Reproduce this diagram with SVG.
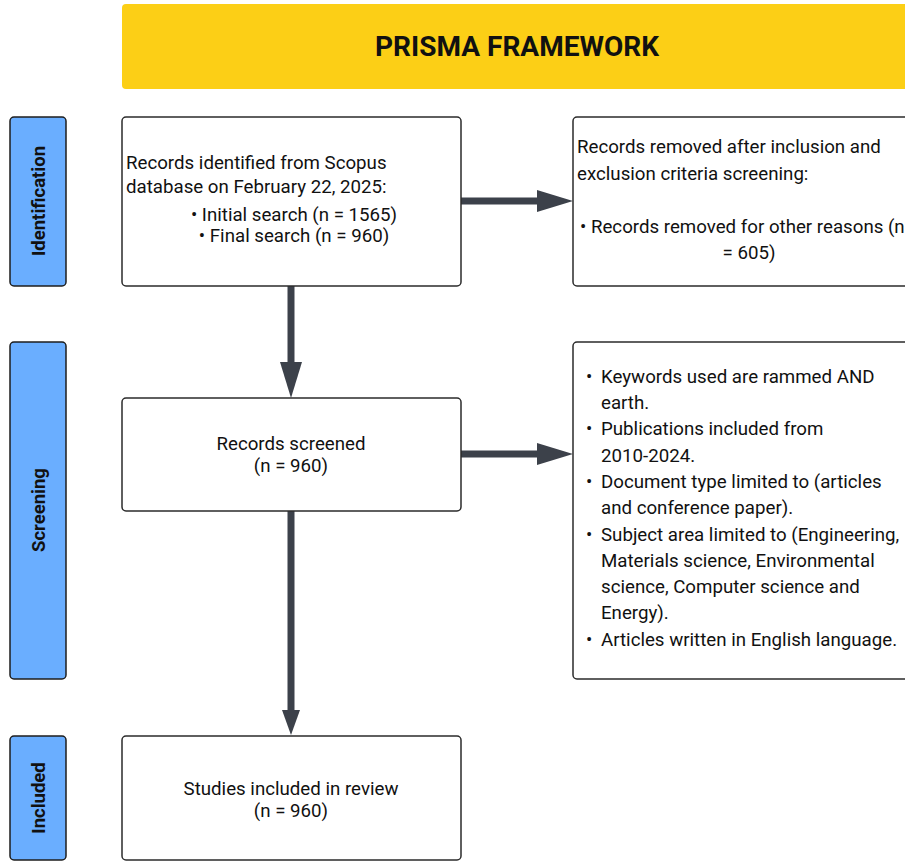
<svg xmlns="http://www.w3.org/2000/svg" width="905" height="861" viewBox="0 0 905 861">
<style>
.box{fill:#ffffff;stroke:#2b2b2b;stroke-width:1.5}
.side{fill:#6aaeff;stroke:#1e1e1e;stroke-width:1.5}
.t{font-family:Roboto,"Liberation Sans",sans-serif;font-size:18.7px;fill:#111}
.c{text-anchor:middle}
.st{font-family:Roboto,"Liberation Sans",sans-serif;font-size:18.5px;font-weight:bold;fill:#111;text-anchor:middle}
.conn{stroke:#3c414a;stroke-width:7;fill:none}
.head{fill:#3c414a}
</style>
<rect width="905" height="861" fill="#ffffff"/>
<g id="title">
<rect x="122" y="4" width="800" height="85" rx="4" fill="#fccf16"/>
<text x="517" y="56" font-family="Roboto,'Liberation Sans',sans-serif" font-size="28" font-weight="bold" fill="#111" text-anchor="middle">PRISMA FRAMEWORK</text>
</g>
<g id="lbl-identification">
<rect class="side" x="10" y="117" width="56" height="169" rx="4"/>
<text class="st" transform="translate(45,201) rotate(-90)">Identification</text>
</g>
<g id="lbl-screening">
<rect class="side" x="10" y="342" width="56" height="337" rx="4"/>
<text class="st" transform="translate(45,510) rotate(-90)">Screening</text>
</g>
<g id="lbl-included">
<rect class="side" x="10" y="736" width="56" height="124" rx="4"/>
<text class="st" transform="translate(45,798) rotate(-90)">Included</text>
</g>
<g id="connectors">
<line class="conn" x1="461" y1="201" x2="540" y2="201"/>
<polygon class="head" points="537,190 573,201 537,212"/>
<line class="conn" x1="291" y1="286" x2="291" y2="365"/>
<polygon class="head" points="280,362 302,362 291,398"/>
<line class="conn" x1="461" y1="454" x2="540" y2="454"/>
<polygon class="head" points="537,443 573,454 537,465"/>
<line class="conn" x1="291" y1="511" x2="291" y2="712"/>
<polygon class="head" points="282,710 300,710 291,735"/>
</g>
<g id="n-identified">
<rect class="box" x="122" y="117" width="339" height="169" rx="4"/>
<text class="t" x="126" y="169">Records identified from Scopus</text>
<text class="t" x="126" y="193">database on February 22, 2025:</text>
<text class="t c" x="294" y="221">• Initial search (n = 1565)</text>
<text class="t c" x="294" y="242">• Final search (n = 960)</text>
</g>
<g id="n-removed">
<rect class="box" x="573" y="117" width="360" height="169" rx="4"/>
<text class="t" x="577" y="153">Records removed after inclusion and</text>
<text class="t" x="577" y="180">exclusion criteria screening:</text>
<text class="t" x="580" y="233">• Records removed for other reasons (n</text>
<text class="t c" x="749" y="259">= 605)</text>
</g>
<g id="n-screened">
<rect class="box" x="122" y="398" width="339" height="113" rx="4"/>
<text class="t c" x="291" y="450">Records screened</text>
<text class="t c" x="291" y="472">(n = 960)</text>
</g>
<g id="n-criteria">
<rect class="box" x="573" y="342" width="360" height="337" rx="4"/>
<text class="t" x="586" y="383">•</text><text class="t" x="601" y="383">Keywords used are rammed AND</text>
<text class="t" x="601" y="409">earth.</text>
<text class="t" x="586" y="435">•</text><text class="t" x="601" y="435">Publications included from</text>
<text class="t" x="601" y="462">2010-2024.</text>
<text class="t" x="586" y="488">•</text><text class="t" x="601" y="488">Document type limited to (articles</text>
<text class="t" x="601" y="514">and conference paper).</text>
<text class="t" x="586" y="541">•</text><text class="t" x="601" y="541">Subject area limited to (Engineering,</text>
<text class="t" x="601" y="567">Materials science, Environmental</text>
<text class="t" x="601" y="593">science, Computer science and</text>
<text class="t" x="601" y="619">Energy).</text>
<text class="t" x="586" y="646">•</text><text class="t" x="601" y="646">Articles written in English language.</text>
</g>
<g id="n-included">
<rect class="box" x="122" y="736" width="339" height="124" rx="4"/>
<text class="t c" x="291" y="795">Studies included in review</text>
<text class="t c" x="291" y="817">(n = 960)</text>
</g>
</svg>
